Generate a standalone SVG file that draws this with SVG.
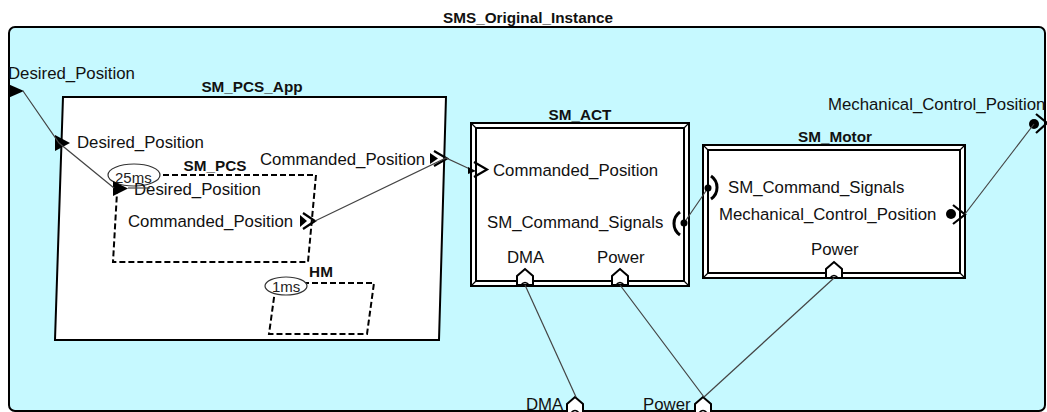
<svg xmlns="http://www.w3.org/2000/svg" width="1047" height="412" viewBox="0 0 1047 412">
  <style>
    .lbl { font-family: "Liberation Sans", Arial, sans-serif; font-size: 16.8px; fill: #111; }
    .ttl { font-family: "Liberation Sans", Arial, sans-serif; font-size: 15.3px; font-weight: bold; fill: #111; }
    .rate { font-family: "Liberation Sans", Arial, sans-serif; font-size: 15px; fill: #222; }
    .frame { fill: #fff; stroke: #000; stroke-width: 2; }
    .inner { fill: none; stroke: #000; stroke-width: 2; }
    .bevel { fill: none; stroke: #000; stroke-width: 1.2; }
    .dash { fill: none; stroke: #000; stroke-width: 2; stroke-dasharray: 6 3; }
    .conn { fill: none; stroke: #444; stroke-width: 1.2; }
    .chev { fill: none; stroke: #000; stroke-width: 2.2; }
    .sock { fill: none; stroke: #000; stroke-width: 3; }
    .house { fill: #fff; stroke: #000; stroke-width: 2; }
    .mark { fill: none; stroke: #000; stroke-width: 1.6; }
  </style>
  <defs>
    <g id="house">
      <path class="house" d="M0,16 V7 L8,0 L16,7 V16 Z"/>
      <path class="mark" d="M4,16 Q8,11 12,16"/>
    </g>
  </defs>

  <!-- system container -->
  <g id="SMS_Original_Instance">
    <rect x="9" y="27" width="1036" height="384" rx="6" fill="#c6f9ff" stroke="#000" stroke-width="2"/>
    <text class="ttl" x="528" y="23" text-anchor="middle">SMS_Original_Instance</text>
    <!-- boundary port: Desired_Position -->
    <path d="M8,84 L24,91 L8,98 Z" fill="#000"/>
    <text class="lbl" x="8" y="79">Desired_Position</text>
    <!-- boundary port: Mechanical_Control_Position -->
    <text class="lbl" x="828" y="110">Mechanical_Control_Position</text>
    <circle cx="1034" cy="124" r="5" fill="#000"/>
    <path class="chev" d="M1036,114 L1047,123 L1036,133"/>
    <!-- boundary ports: DMA, Power -->
    <text class="lbl" x="526" y="410">DMA</text>
    <use href="#house" x="567" y="397"/>
    <text class="lbl" x="643" y="410">Power</text>
    <use href="#house" x="695" y="397"/>
  </g>

  <!-- process SM_PCS_App -->
  <g id="SM_PCS_App">
    <path class="frame" d="M63,97 L446,97 L439,340 L55,340 Z"/>
    <text class="ttl" x="252" y="92" text-anchor="middle">SM_PCS_App</text>
    <path d="M55,135 L70,143 L55,151 Z" fill="#000"/>
    <text class="lbl" x="77" y="148">Desired_Position</text>
    <text class="lbl" x="260" y="165">Commanded_Position</text>
    <path d="M430,153 L438,158.5 L430,164 Z" fill="#000"/>
    <path class="chev" d="M434,151 L447,158.5 L434,166"/>
  </g>

  <!-- thread SM_PCS -->
  <g id="SM_PCS">
    <path class="dash" d="M118,175 L316,175 L308,262 L113,262 Z"/>
    <text class="ttl" x="215" y="171" text-anchor="middle">SM_PCS</text>
    <ellipse cx="134" cy="175" rx="26" ry="11" fill="#fff" stroke="#333" stroke-width="1.2"/>
    <text class="rate" x="115" y="183">25ms</text>
    <path d="M113,181 L128,188.5 L113,196 Z" fill="#000"/>
    <text class="lbl" x="134" y="195">Desired_Position</text>
    <text class="lbl" x="128" y="227">Commanded_Position</text>
    <path d="M300,215 L307,221 L300,227 Z" fill="#000"/>
    <path class="chev" d="M303,213 L315,221 L303,229"/>
  </g>

  <!-- thread HM -->
  <g id="HM">
    <path class="dash" d="M276,283 L374,283 L367,334 L269,334 Z"/>
    <text class="ttl" x="321" y="277" text-anchor="middle">HM</text>
    <ellipse cx="286" cy="286" rx="21" ry="9" fill="#fff" stroke="#333" stroke-width="1.2"/>
    <text class="rate" x="272" y="292">1ms</text>
  </g>

  <!-- device SM_ACT -->
  <g id="SM_ACT">
    <rect class="frame" x="471" y="123" width="218" height="163"/>
    <rect class="inner" x="476" y="128" width="208" height="153"/>
    <path class="bevel" d="M471,123 L476,128 M689,123 L684,128 M471,286 L476,281 M689,286 L684,281"/>
    <text class="ttl" x="580" y="120" text-anchor="middle">SM_ACT</text>
    <path class="chev" d="M474,162 L487,169.5 L474,177"/>
    <text class="lbl" x="493" y="176">Commanded_Position</text>
    <text class="lbl" x="487" y="228">SM_Command_Signals</text>
    <path class="sock" d="M680,212 A14,14 0 0 0 680,235"/>
    <text class="lbl" x="507" y="263">DMA</text>
    <text class="lbl" x="597" y="263">Power</text>
    <use href="#house" x="517" y="269"/>
    <use href="#house" x="612" y="269"/>
  </g>

  <!-- device SM_Motor -->
  <g id="SM_Motor">
    <rect class="frame" x="703" y="145" width="262" height="133"/>
    <rect class="inner" x="708" y="150" width="252" height="123"/>
    <path class="bevel" d="M703,145 L708,150 M965,145 L960,150 M703,278 L708,273 M965,278 L960,273"/>
    <text class="ttl" x="835" y="142" text-anchor="middle">SM_Motor</text>
    <path class="sock" d="M711,176 A14,14 0 0 1 711,199"/>
    <text class="lbl" x="728" y="193">SM_Command_Signals</text>
    <text class="lbl" x="719" y="220">Mechanical_Control_Position</text>
    <circle cx="951" cy="214" r="5" fill="#000"/>
    <path class="chev" d="M953,205 L965,214.5 L953,224"/>
    <text class="lbl" x="811" y="255">Power</text>
    <use href="#house" x="826" y="262"/>
  </g>

  <!-- connections -->
  <g id="connectors">
    <path class="conn" d="M23,91 L59,143 L114,188"/>
    <path class="conn" d="M128,188 L150,188"/>
    <path class="conn" d="M315,221 L446,158 L472,170"/>
    <path d="M468,167 L476,171 L468,174 Z" fill="#000"/>
    <path class="conn" d="M684,223 L708,188"/>
    <circle cx="684" cy="223" r="3.5" fill="#000"/>
    <circle cx="708" cy="188" r="3.5" fill="#000"/>
    <path class="conn" d="M965,214 L1034,124"/>
    <path class="conn" d="M525,285 L576,397"/>
    <path class="conn" d="M620,285 L704,397"/>
    <path class="conn" d="M834,278 L704,397"/>
  </g>
</svg>
